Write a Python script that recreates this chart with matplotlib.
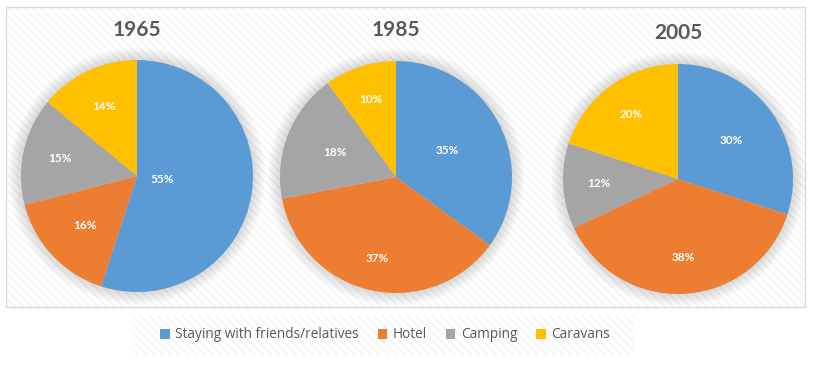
import numpy as np
import matplotlib.pyplot as plt
from matplotlib.patches import Rectangle, Circle, Patch

years = ["1965", "1985", "2005"]
categories = ["Staying with friends/relatives", "Hotel", "Camping", "Caravans"]
shares_1965 = [55, 16, 15, 14]
shares_1985 = [35, 37, 18, 10]
shares_2005 = [30, 38, 12, 20]
colors = ["#5B9BD5", "#ED7D31", "#A5A5A5", "#FFC000"]

# where each percent label sits (fraction of radius, along slice middle)
label_dist = [
    [0.22, 0.62, 0.68, 0.66],
    [0.50, 0.72, 0.57, 0.70],
    [0.57, 0.68, 0.69, 0.69],
]

W, H = 813, 366
fig = plt.figure(figsize=(W / 100, H / 100), dpi=100)
plt.rcParams["hatch.linewidth"] = 0.8

bg = fig.add_axes([0, 0, 1, 1])
bg.set_xlim(0, W)
bg.set_ylim(H, 0)
bg.axis("off")

# plot area and legend boxes with the light diagonal pattern
bg.add_patch(Rectangle((6, 7), 799, 300, facecolor="white", edgecolor="#f0f0f0",
                       hatch="\\\\\\\\", lw=0))
bg.add_patch(Rectangle((6, 7), 799, 300, facecolor="none", edgecolor="#d9d9d9", lw=1))
bg.add_patch(Rectangle((134, 315), 500, 40, facecolor="white", edgecolor="#f0f0f0",
                       hatch="\\\\\\\\", lw=0))

centers = [(137, 176, 116), (396, 177, 116), (678, 179, 115)]
title_y = [30, 30, 33]
all_shares = [shares_1965, shares_1985, shares_2005]

for i, (cx, cy, r) in enumerate(centers):
    pad = 1.2
    ax = fig.add_axes([(cx - pad * r) / W, (H - cy - pad * r) / H,
                       2 * pad * r / W, 2 * pad * r / H])

    vals = all_shares[i]
    wedges, _ = ax.pie(vals, colors=colors, startangle=90, counterclock=False,
                       radius=1.0, wedgeprops=dict(lw=0))
    ax.set_xlim(-pad, pad)
    ax.set_ylim(-pad, pad)
    ax.axis("off")
    for w in wedges:
        w.set_zorder(2)

    # soft shadow around the pie
    for k in range(10):
        ax.add_patch(Circle((0, 0), 1.0 + 0.012 * k, color="#000000",
                            alpha=0.015, lw=0, zorder=0))

    total = sum(vals)
    start = 90.0
    for j, v in enumerate(vals):
        span = 360.0 * v / total
        mid = np.deg2rad(start - span / 2)
        d = label_dist[i][j]
        ax.text(d * np.cos(mid), d * np.sin(mid), f"{v}%", color="white",
                fontsize=8.5, fontweight="bold", family="Lato",
                ha="center", va="center", zorder=3)
        start -= span

    ax.text(0, (cy - title_y[i]) / r, years[i], ha="center", va="center",
            fontsize=15, fontweight="bold", family="Lato", color="#595959",
            clip_on=False)

handles = [Patch(facecolor=c, edgecolor="none") for c in colors]
fig.legend(handles, categories, loc="center", bbox_to_anchor=(385 / W, 1 - 335 / H),
           ncol=4, frameon=False, handlelength=0.7, handleheight=0.7,
           handletextpad=0.4, columnspacing=1.4, labelcolor="#595959",
           prop={"family": "Open Sans", "size": 9.8})

fig.savefig("out.png", dpi=100)
